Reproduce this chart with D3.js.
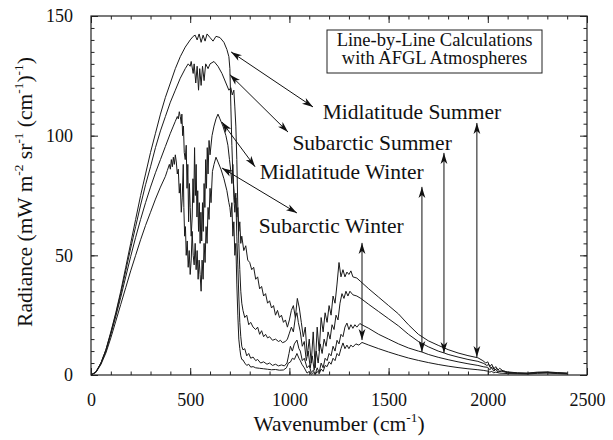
<!DOCTYPE html>
<html>
<head>
<meta charset="utf-8">
<script src="https://cdn.jsdelivr.net/npm/d3@7"></script>
<style>
  html, body { margin: 0; padding: 0; background: #fff; }
  svg text { font-family: "Liberation Serif", "Times New Roman", serif; fill: #111; }
</style>
</head>
<body>
<div id="chart"></div>
<script>
// Spectra: [wavenumber (cm-1), radiance]
const midlatSummer = [
  [0,0],[25,1.3],[50,5],[75,10.5],[100,18],[125,26],[150,35],[175,45],[200,55],[225,65],[250,75],[275,84],
  [300,93],[325,101],[350,109],[375,116],[400,122],[425,128],[450,133],[475,137],[500,140],[515,141.5],
  [525,142],[535,140],[545,142.5],[555,139],[565,142],[575,139.5],[585,142.5],[600,141],[615,139.5],
  [630,141.5],[650,141],[670,139],[685,136],[695,133],[700,128],[705,112],[710,96],[715,84],[720,78],
  [725,72],[730,76],[735,66],[740,70],[745,60],[750,64],[755,55],[760,58],[770,52],[780,54],[790,48],
  [800,47],[810,44],[820,45],[830,40],[840,41],[850,36],[860,37],[870,33],[880,34],[890,30],[900,31],
  [910,28],[920,29],[930,25],[940,27],[950,24],[960,25],[970,22],[980,23],[990,20],[1000,23],[1010,27],
  [1020,29],[1030,24],[1040,32],[1050,28],[1060,22],[1070,16],[1080,20],[1090,8],[1100,15],[1110,5],
  [1120,18],[1130,3],[1140,20],[1150,10],[1160,24],[1170,18],[1180,26],[1190,22],[1200,29],[1210,25],
  [1220,33],[1230,30],[1240,38],[1250,47],[1260,41],[1270,44],[1280,41],[1290,43],[1300,42],[1310,43.5],
  [1320,41],[1340,40.5],[1360,39],[1400,36],[1450,32.5],[1500,29],[1550,25.5],[1600,21],[1650,17],
  [1700,14.3],[1750,12.4],[1800,10.6],[1850,9.2],[1900,8.1],[1950,7.2],[1975,6],[1990,5],[2000,5.5],
  [2010,3.5],[2020,4.5],[2030,2.5],[2040,3.5],[2050,2],[2060,2.8],[2080,1.5],[2100,1.3],[2150,0.9],
  [2200,0.8],[2250,1.2],[2300,1.3],[2350,1],[2400,0.8]
];

const subarcticSummer = [
  [0,0],[25,1.3],[50,5],[75,10.5],[100,17.5],[125,25.5],[150,34],[175,43.5],[200,53],[225,62],[250,71],
  [275,79.5],[300,87],[325,95],[350,102],[375,108],[400,114],[425,119],[450,124],[475,128],[490,130],
  [500,129],[505,131],[515,126],[520,130],[528,122],[535,129],[542,119],[548,128],[555,121],[562,129],
  [570,123],[578,130],[590,128],[600,130],[620,131],[640,129],[660,126],[680,122],[695,119],[705,120],
  [712,117],[720,119],[725,112],[730,104],[735,90],[740,70],[745,55],[750,44],[755,35],[760,30],[766,27],
  [775,24],[785,25],[795,21],[805,22],[817,20],[830,19],[840,20],[850,17],[860,18.5],[870,16],[880,17],
  [890,15.5],[900,16],[915,14.5],[930,15],[945,14],[955,14.5],[965,13.5],[980,14],[990,15],[1000,17.5],
  [1010,20],[1020,18],[1030,24],[1038,26],[1045,22],[1055,18],[1065,12],[1075,14],[1085,6],[1095,10],
  [1105,3],[1115,8],[1125,2],[1135,10],[1145,5],[1155,13],[1165,9],[1175,15],[1185,12],[1195,18],
  [1205,15],[1215,21],[1225,19],[1235,25],[1245,23],[1255,30],[1265,34],[1275,32],[1285,35],[1295,33],
  [1305,35],[1320,33.5],[1340,33],[1360,32],[1400,29.5],[1450,26.5],[1500,23.5],[1550,20.5],[1600,17],
  [1650,14],[1700,11.8],[1750,10],[1780,9.2],[1800,8.6],[1850,7.5],[1900,6.5],[1950,5.7],[1980,4.8],
  [1995,4],[2005,4.4],[2015,2.8],[2025,3.6],[2035,2],[2045,2.8],[2060,1.6],[2080,1.8],[2100,1.1],
  [2150,0.8],[2200,0.7],[2250,1],[2300,1.1],[2350,0.9],[2400,0.7]
];

const midlatWinter = [
  [0,0],[25,1.2],[50,4.8],[75,10],[100,17],[125,24.5],[150,32.5],[175,41],[200,49.5],[225,57.5],[250,65],
  [275,72],[300,78.5],[325,84.5],[350,90],[375,95.5],[400,101],[415,104],[425,106],[435,108],[440,107],
  [445,110],[450,108],[455,105],[458,109],[462,100],[466,104],[470,93],[475,90],[480,96],[484,78],
  [488,88],[492,64],[496,80],[500,70],[505,58],[510,66],[514,82],[518,72],[522,95],[526,75],[530,88],
  [534,66],[538,77],[542,60],[546,72],[550,55],[554,68],[558,56],[562,72],[566,60],[570,80],[574,70],
  [578,90],[582,78],[586,95],[590,84],[595,98],[600,92],[610,100],[620,104],[630,107],[640,109],[650,107],
  [665,104],[680,100],[690,96],[698,90],[705,85],[710,80],[715,88],[720,74],[725,68],[730,74],[735,58],
  [740,46],[745,33],[750,22],[755,16],[760,12],[766,10.5],[775,11],[785,8],[795,9],[805,7],[817,7.5],
  [830,6],[840,6.5],[855,5],[870,5.5],[887,4.5],[900,5],[915,4],[930,4.5],[945,3.8],[960,4.2],[975,3.8],
  [988,5],[998,9],[1005,12],[1015,10],[1025,13],[1038,14.6],[1048,11],[1055,10],[1065,6],[1075,7],
  [1089,3],[1100,4],[1110,1],[1120,2],[1130,0.3],[1140,3],[1150,1],[1160,5],[1170,3],[1180,7],[1190,6],
  [1200,9],[1210,8],[1220,12],[1230,10],[1240,14.5],[1250,13],[1260,17],[1270,16],[1280,20],[1290,21.7],
  [1300,19],[1310,21],[1320,19.5],[1330,21],[1340,20],[1355,21.5],[1365,21],[1400,19.5],[1450,17],
  [1500,15],[1550,13],[1600,11.3],[1650,10],[1668,9.6],[1700,8.6],[1750,7.4],[1800,6.4],[1850,5.5],
  [1900,4.7],[1950,4],[1980,3.4],[2000,3.2],[2010,2.2],[2020,3],[2030,1.6],[2040,2.4],[2050,1.3],
  [2070,1.6],[2100,0.9],[2150,0.7],[2200,0.6],[2250,0.9],[2300,1],[2350,0.8],[2400,0.6]
];

const subarcticWinter = [
  [0,0],[25,1.1],[50,4.4],[75,9.2],[100,15.5],[125,22.5],[150,29.5],[175,36.5],[200,43.5],[225,50],
  [250,56.5],[275,62.5],[300,68],[325,73.5],[350,78.5],[375,83],[385,85.5],[395,88],[400,86],[405,90],
  [410,87],[415,91],[420,88],[425,92],[430,89],[435,84],[440,86],[445,76],[450,80],[455,68],[460,74],
  [465,88],[468,70],[472,58],[476,62],[480,50],[485,56],[490,45],[495,52],[500,42],[505,48],[510,60],
  [515,50],[520,46],[525,55],[530,44],[535,52],[540,40],[545,48],[550,42],[555,35],[560,48],[565,40],
  [570,55],[575,47],[580,62],[585,55],[590,70],[595,65],[600,78],[605,72],[612,85],[620,88],[630,91],
  [640,89],[655,86],[670,82],[685,77],[695,72],[700,70],[705,66],[710,72],[715,58],[720,64],[725,50],
  [730,55],[735,38],[740,25],[745,15],[750,11],[755,8],[760,6.5],[766,6.3],[775,5],[785,4],[795,4.5],
  [805,3.3],[817,3.5],[830,3],[850,2.8],[870,2.6],[890,2.4],[910,2.2],[930,2.3],[950,2],[970,2.1],
  [985,3],[995,5],[1005,5.4],[1015,7],[1025,6.5],[1038,9],[1048,7],[1055,6],[1063,4.5],[1075,3],
  [1089,0.8],[1100,1.5],[1110,0.3],[1120,1],[1130,0.2],[1140,1.5],[1150,0.5],[1160,2.5],[1170,1.5],
  [1180,4],[1190,3.5],[1200,5.5],[1210,4.5],[1220,7],[1230,6],[1240,9],[1250,8],[1260,11],[1270,13.4],
  [1280,11],[1290,12.5],[1300,11],[1310,12.5],[1320,11.7],[1335,13],[1350,12.5],[1366,13.6],[1400,12.5],
  [1450,11],[1500,9.6],[1550,8.3],[1600,7.1],[1650,6.1],[1700,5.2],[1750,4.4],[1800,3.7],[1850,3.1],
  [1900,2.6],[1950,2.2],[1980,1.9],[2000,1.6],[2010,1.2],[2020,1.5],[2030,0.9],[2040,1.2],[2060,0.8],
  [2100,0.6],[2150,0.5],[2200,0.4],[2250,0.7],[2300,0.8],[2350,0.6],[2400,0.4]
];

// ticks
const xMajorTicks = [0, 500, 1000, 1500, 2000, 2500];
const xMinorTicks = d3.range(0, 2501, 100);
const yMajorTicks = [0, 50, 100, 150];
const yMinorTicks = d3.range(0, 151, 5);

// annotation labels: text, start wavenumber, baseline radiance
const labelNames = ['Midlatitude Summer', 'Subarctic Summer', 'Midlatitude Winter', 'Subarctic Winter'];
const labelX = [1168, 1015, 850, 845];
const labelY = [107, 94, 82, 59.5];

// slanted arrows from curve to label: [wn1, rad1, wn2, rad2]
const slantArrows = [
  [706, 135, 1119, 112],
  [700, 125.5, 993, 101.5],
  [660, 105.7, 827, 87],
  [660, 86.5, 1038, 67.7]
];
// vertical arrows: wavenumber, top radiance, bottom radiance
const vertArrowX = [1366, 1668, 1779, 1945];
const vertArrowTop = [55.2, 78.6, 92.8, 105.3];
const vertArrowBottom = [14.6, 9.6, 9.2, 7.5];

const boxLines = ['Line-by-Line Calculations', 'with AFGL Atmospheres'];

const W = 613, H = 440;
const margin = { top: 16, right: 26, bottom: 65, left: 91 };

const svg = d3.select('#chart').append('svg')
  .attr('width', W).attr('height', H);

const x = d3.scaleLinear().domain([0, 2500]).range([margin.left, W - margin.right]);
const y = d3.scaleLinear().domain([0, 150]).range([H - margin.bottom, margin.top]);

// arrow head marker
svg.append('defs').append('marker')
  .attr('id', 'head')
  .attr('markerUnits', 'userSpaceOnUse')
  .attr('markerWidth', 12).attr('markerHeight', 8)
  .attr('refX', 11).attr('refY', 4)
  .attr('orient', 'auto-start-reverse')
  .append('path')
  .attr('d', 'M0,0.6 L11,4 L0,7.4 L3,4 Z')
  .attr('fill', '#111');

// axes with inward ticks
const addAxis = (axis, transform) => {
  const g = svg.append('g').attr('transform', transform).call(axis);
  g.select('.domain').remove();
  g.selectAll('line').attr('stroke', '#222');
  g.selectAll('text')
    .style('font-family', '"Liberation Serif", serif')
    .style('font-size', '18px').attr('fill', '#111');
  return g;
};

const bottomY = y(0), topY = y(150);
addAxis(d3.axisBottom(x).tickValues(xMinorTicks).tickSize(-3.5).tickFormat(''), `translate(0,${bottomY})`);
addAxis(d3.axisTop(x).tickValues(xMinorTicks).tickSize(-3.5).tickFormat(''), `translate(0,${topY})`);
addAxis(d3.axisBottom(x).tickValues(xMajorTicks).tickSize(-7).tickPadding(18).tickFormat(d3.format('d')), `translate(0,${bottomY})`);
addAxis(d3.axisTop(x).tickValues(xMajorTicks).tickSize(-7).tickFormat(''), `translate(0,${topY})`);

addAxis(d3.axisLeft(y).tickValues(yMinorTicks).tickSize(-3.5).tickFormat(''), `translate(${x(0)},0)`);
addAxis(d3.axisRight(y).tickValues(yMinorTicks).tickSize(-3.5).tickFormat(''), `translate(${x(2500)},0)`);
addAxis(d3.axisLeft(y).tickValues(yMajorTicks).tickSize(-7).tickPadding(18).tickFormat(d3.format('d')), `translate(${x(0)},0)`);
addAxis(d3.axisRight(y).tickValues(yMajorTicks).tickSize(-7).tickFormat(''), `translate(${x(2500)},0)`);

// frame
svg.append('rect')
  .attr('x', x(0)).attr('y', topY)
  .attr('width', x(2500) - x(0)).attr('height', bottomY - topY)
  .attr('fill', 'none').attr('stroke', '#222').attr('stroke-width', 1.2);

// spectra
const line = d3.line().x(d => x(d[0])).y(d => y(d[1]));
[midlatSummer, subarcticSummer, midlatWinter, subarcticWinter].forEach(s => {
  svg.append('path')
    .attr('d', line(s))
    .attr('fill', 'none')
    .attr('stroke', '#1a1a1a')
    .attr('stroke-width', 1)
    .attr('stroke-linejoin', 'round');
});

// arrows
slantArrows.forEach(a => {
  svg.append('line')
    .attr('x1', x(a[0])).attr('y1', y(a[1]))
    .attr('x2', x(a[2])).attr('y2', y(a[3]))
    .attr('stroke', '#111').attr('stroke-width', 1)
    .attr('marker-start', 'url(#head)').attr('marker-end', 'url(#head)');
});
vertArrowX.forEach((wn, i) => {
  svg.append('line')
    .attr('x1', x(wn)).attr('y1', y(vertArrowTop[i]))
    .attr('x2', x(wn)).attr('y2', y(vertArrowBottom[i]))
    .attr('stroke', '#111').attr('stroke-width', 1)
    .attr('marker-start', 'url(#head)').attr('marker-end', 'url(#head)');
});

// curve labels
labelNames.forEach((t, i) => {
  svg.append('text')
    .attr('x', x(labelX[i])).attr('y', y(labelY[i]))
    .style('font-size', '21.5px')
    .text(t);
});

// title box
const box = svg.append('g');
box.append('rect')
  .attr('x', 327).attr('y', 30).attr('width', 215).attr('height', 43)
  .attr('fill', '#fff').attr('stroke', '#222').attr('stroke-width', 1);
boxLines.forEach((t, i) => {
  box.append('text')
    .attr('x', 434.5).attr('y', 45.5 + i * 18.5)
    .attr('text-anchor', 'middle')
    .style('font-size', '18.5px')
    .text(t);
});

// text with superscripts
const supText = (parent, parts, size) => {
  const t = parent.append('text').style('font-size', size + 'px');
  let raised = false;
  parts.forEach(p => {
    const sup = p.startsWith('^');
    const s = t.append('tspan').text(sup ? p.slice(1) : p);
    if (sup && !raised) { s.attr('dy', -size * 0.42).style('font-size', (size * 0.62) + 'px'); raised = true; }
    else if (sup) { s.style('font-size', (size * 0.62) + 'px'); }
    else if (raised) { s.attr('dy', size * 0.42); raised = false; }
  });
  return t;
};

supText(svg, ['Wavenumber (cm', '^-1', ')'], 21.5)
  .attr('x', 339).attr('y', 431).attr('text-anchor', 'middle');

supText(svg, ['Radiance (mW m', '^-2', ' sr', '^-1', ' (cm', '^-1', ')', '^-1', ')'], 21.5)
  .attr('text-anchor', 'middle')
  .attr('transform', 'translate(32,192) rotate(-90)');
</script>
</body>
</html>
